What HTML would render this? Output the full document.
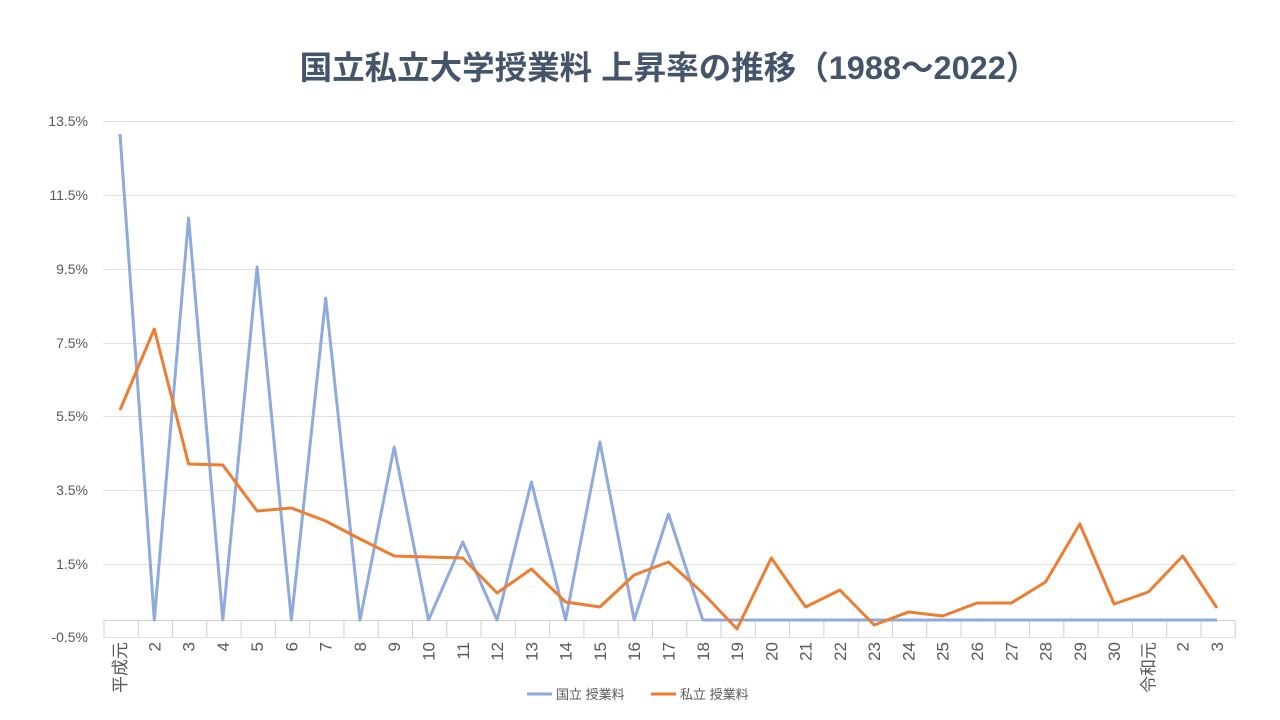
<!DOCTYPE html><html><head><meta charset="utf-8"><style>body{margin:0;background:#fff}svg{display:block}text{font-family:"Liberation Sans","Noto Sans CJK JP",sans-serif}</style></head><body>
<svg width="1280" height="720" viewBox="0 0 1280 720">
<text x="669" y="79" text-anchor="middle" font-size="32.5" font-weight="bold" fill="#44546a">国立私立大学授業料 上昇率の推移（1988～2022）</text>
<g stroke="#e0e0e0" stroke-width="1">
<line x1="103" x2="1235" y1="121.5" y2="121.5"/><line x1="103" x2="1235" y1="195.5" y2="195.5"/><line x1="103" x2="1235" y1="269.5" y2="269.5"/><line x1="103" x2="1235" y1="343.5" y2="343.5"/><line x1="103" x2="1235" y1="416.5" y2="416.5"/><line x1="103" x2="1235" y1="490.5" y2="490.5"/><line x1="103" x2="1235" y1="564.5" y2="564.5"/><line x1="103" x2="1235" y1="637.5" y2="637.5"/>
</g>
<line x1="103" x2="1235" y1="620.5" y2="620.5" stroke="#d0d0d0"/>
<line x1="103.5" x2="1236" y1="629" y2="629" stroke="#d0d0d0" stroke-width="17" stroke-dasharray="1 33.28"/>
<g font-size="14" fill="#595959" text-anchor="end">
<text x="88" y="126">13.5%</text><text x="88" y="200">11.5%</text><text x="88" y="274">9.5%</text><text x="88" y="348">7.5%</text><text x="88" y="421">5.5%</text><text x="88" y="495">3.5%</text><text x="88" y="569">1.5%</text><text x="88" y="642">-0.5%</text>
</g>
<polyline fill="none" stroke="#8faadc" stroke-width="3" stroke-linejoin="round" points="120,134 154.3,620 188.6,218 222.8,620 257.1,267 291.4,620 325.7,298 360,620 394.2,447 428.5,620 462.8,542 497.1,620 531.4,482 565.6,620 599.9,442 634.2,620 668.5,514 702.8,620 737,620 771.3,620 805.6,620 839.9,620 874.2,620 908.4,620 942.7,620 977,620 1011.3,620 1045.6,620 1079.8,620 1114.1,620 1148.4,620 1182.7,620 1217,620"/>
<polyline fill="none" stroke="#ed7d31" stroke-width="3" stroke-linejoin="round" points="120,410 154.3,329 188.6,464 222.8,465 257.1,511 291.4,508 325.7,521 360,539 394.2,556 428.5,557 462.8,558 497.1,593 531.4,569 565.6,602 599.9,607 634.2,575 668.5,562 702.8,593 737,629 771.3,558 805.6,607 839.9,590 874.2,625 908.4,612 942.7,616 977,603 1011.3,603 1045.6,582 1079.8,524 1114.1,604 1148.4,592 1182.7,556 1217,608"/>
<g font-size="17" fill="#595959" text-anchor="end">
<text transform="translate(126,642) rotate(-90)">平成元</text>
<text transform="translate(160.3,642) rotate(-90)">2</text><text transform="translate(194.6,642) rotate(-90)">3</text><text transform="translate(228.8,642) rotate(-90)">4</text><text transform="translate(263.1,642) rotate(-90)">5</text><text transform="translate(297.4,642) rotate(-90)">6</text><text transform="translate(331.7,642) rotate(-90)">7</text><text transform="translate(366,642) rotate(-90)">8</text><text transform="translate(400.2,642) rotate(-90)">9</text><text transform="translate(434.5,642) rotate(-90)">10</text><text transform="translate(468.8,642) rotate(-90)">11</text><text transform="translate(503.1,642) rotate(-90)">12</text><text transform="translate(537.4,642) rotate(-90)">13</text><text transform="translate(571.6,642) rotate(-90)">14</text><text transform="translate(605.9,642) rotate(-90)">15</text><text transform="translate(640.2,642) rotate(-90)">16</text><text transform="translate(674.5,642) rotate(-90)">17</text><text transform="translate(708.8,642) rotate(-90)">18</text><text transform="translate(743,642) rotate(-90)">19</text><text transform="translate(777.3,642) rotate(-90)">20</text><text transform="translate(811.6,642) rotate(-90)">21</text><text transform="translate(845.9,642) rotate(-90)">22</text><text transform="translate(880.2,642) rotate(-90)">23</text><text transform="translate(914.4,642) rotate(-90)">24</text><text transform="translate(948.7,642) rotate(-90)">25</text><text transform="translate(983,642) rotate(-90)">26</text><text transform="translate(1017.3,642) rotate(-90)">27</text><text transform="translate(1051.6,642) rotate(-90)">28</text><text transform="translate(1085.8,642) rotate(-90)">29</text><text transform="translate(1120.1,642) rotate(-90)">30</text><text transform="translate(1154.4,642) rotate(-90)">令和元</text><text transform="translate(1188.7,642) rotate(-90)">2</text><text transform="translate(1223,642) rotate(-90)">3</text>
</g>
<line x1="527" x2="552" y1="694" y2="694" stroke="#8faadc" stroke-width="3"/>
<text x="556" y="699" font-size="13" fill="#595959">国立 授業料</text>
<line x1="651" x2="676" y1="694" y2="694" stroke="#ed7d31" stroke-width="3"/>
<text x="680" y="699" font-size="13" fill="#595959">私立 授業料</text>
</svg></body></html>
